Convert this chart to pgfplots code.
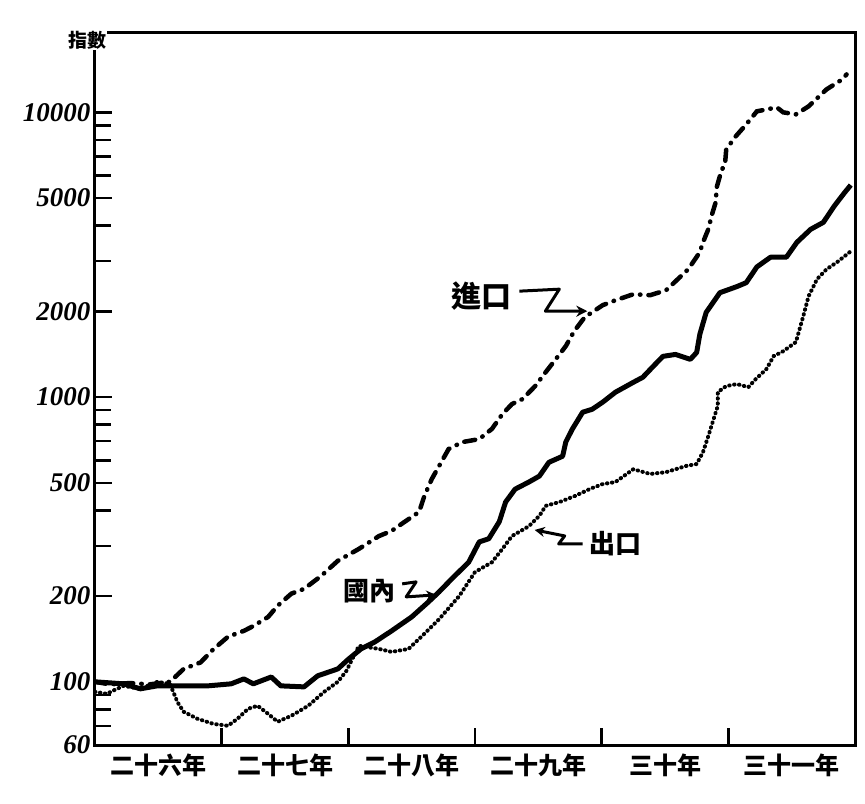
\documentclass[border=0pt]{standalone}
\usepackage{pgfplots}
\pgfplotsset{compat=1.18}
\usepackage{fontspec}
\setmainfont{Liberation Serif}
\newfontfamily\cjk{Noto Sans CJK TC}
\usetikzlibrary{arrows.meta}
\begin{document}
\begin{tikzpicture}
\begin{axis}[
  scale only axis,
  width=760pt, height=712pt,
  ymode=log,
  xmin=0, xmax=72,
  ymin=60, ymax=19000,
  axis line style={line width=3pt},
  ytick={60,100,200,500,1000,2000,5000,10000},
  yticklabels={60,100,200,500,1000,2000,5000,10000},
  minor ytick={70,80,90,300,400,600,700,800,900,3000,4000,6000,7000,8000,9000},
  ytick pos=left,
  tick align=inside,
  major tick length=17pt,
  minor tick length=16pt,
  every tick/.style={black, line width=2.5pt},
  yticklabel style={font=\fontsize{27}{29}\selectfont\bfseries\itshape, xshift=-1pt},
  xtick={12,24,36,48,60},
  xticklabels={},
  xtick pos=bottom,
  extra x ticks={6,18,30,42,54,66},
  extra x tick labels={二十六年,二十七年,二十八年,二十九年,三十年,三十一年},
  extra x tick style={major tick length=0pt, xticklabel style={font=\cjk\bfseries\fontsize{24}{26}\selectfont, yshift=-5pt}},
]
% 進口 (imports)
\addplot[black, line width=4.5pt, line cap=round, dash pattern=on 11pt off 8pt on 0.5pt off 8pt] coordinates {
(0,100) (1.4,98) (3.3,99) (5.2,98) (7.1,100) (8.4,111) (10,117) (11.2,130) (12.6,144) (14.1,151) (15,157) (16.4,169) (17.3,185) (18.6,204) (19.8,212) (21.4,235) (23,266) (25,293) (26.9,325) (28.1,339) (29.3,364) (30.7,395) (31.2,449) (31.9,515) (32.6,573) (33.5,657) (34.8,695) (36.4,712) (37.6,773) (38.6,872) (39.5,945) (40.5,984) (41.7,1093) (42.7,1224) (43.8,1381) (44.6,1510) (45.4,1705) (46.4,1909) (47.1,1986) (48.1,2103) (49.3,2188) (51,2297) (52.6,2280) (54.1,2373) (55,2551) (56.2,2812) (57.3,3227) (57.6,3498) (58.1,3884) (58.4,4315) (58.8,4831) (58.9,5456) (59.3,6155) (59.7,6676) (59.8,7418) (60.7,8237) (61.7,9077) (62.7,10081) (64.6,10411) (65.2,10000) (66.4,9840) (67.6,10497) (69.3,12040) (70.8,13056) (71.2,13590)
};
% 國內 (domestic)
\addplot[black, line width=5pt, line join=round] coordinates {
(0,100) (2.7,98.4) (4.3,94.5) (5.9,96.8) (7.4,96.8) (9,96.8) (10.7,96.8) (12.9,98.4) (14.1,102.4) (15,98.4) (16.7,104) (17.6,96.8) (19.8,96) (21.1,105) (23,111) (24,120) (25.2,130.5) (26.5,138) (28.1,151) (30,169) (31.6,191) (32.6,207) (33.8,230) (35.4,263) (36.4,310) (37.3,318) (38.3,365) (38.9,428) (39.8,475) (41.1,503) (42.1,528) (43,590) (44.3,620) (44.6,695) (45.2,770) (46.2,885) (47.1,906) (48.1,960) (49.3,1040) (51,1127) (51.9,1174) (52.9,1284) (53.8,1390) (55,1412) (56.4,1357) (57,1435) (57.3,1662) (57.9,1984) (59.2,2326) (60.8,2443) (61.7,2523) (62.7,2865) (64,3100) (65.5,3100) (66.5,3498) (67.8,3884) (69,4108) (70,4668) (71,5218) (71.6,5554)
};
% 出口 (exports)
\addplot[black, line width=4pt, line cap=round, dash pattern=on 0.5pt off 4.5pt] coordinates {
(0,92.2) (1.1,90.8) (2.7,96.8) (4.3,94.5) (5.9,100) (7.1,98.4) (7.8,85) (8.4,78.5) (9.7,74.2) (11.2,71.2) (12.6,70.1) (13.5,74.2) (14.5,80.4) (15.4,82.4) (16.4,77.2) (17.3,72.4) (18.6,76) (20.2,82.4) (21.7,92.2) (23,100) (23.8,109) (25,133.8) (26.9,130.5) (28.1,127.4) (29.7,130.5) (31,145) (32.6,166) (34.5,200) (36,243) (37.6,263) (38.6,293) (39.5,325) (41.1,352) (42.1,383) (42.7,415) (44,428) (45.5,450) (46.9,476) (48.1,495) (49.3,503) (51,558) (52.6,537) (54.1,545) (56,573) (57,582) (57.6,641) (58.1,729) (58.6,836) (59,930) (59,1041) (59.8,1093) (60.8,1111) (61.9,1084) (62.6,1157) (63.6,1254) (64.3,1393) (65.2,1449) (66.4,1560) (67.1,1924) (67.6,2260) (68.4,2594) (69.3,2812) (70.3,2977) (71.6,3252)
};
% annotations
\node[font=\cjk\bfseries\fontsize{30}{32}\selectfont] at (axis cs:36.6,2261) {進口};
\draw[line width=3pt, line join=round, -{Stealth[length=11pt,width=11pt]}] (axis cs:40.2,2355) -- ++(40pt,2pt) -- ++(-14pt,-22pt) -- ++(42pt,0pt);
\node[font=\cjk\bfseries\fontsize{26}{28}\selectfont] at (axis cs:26.0,208.6) {國內};
\draw[line width=3pt, line join=round, -{Stealth[length=10pt,width=10pt]}] (axis cs:29.1,220.8) -- ++(14pt,2pt) -- ++(-10pt,-15pt) -- ++(30pt,2pt);
\node[font=\cjk\bfseries\fontsize{26}{28}\selectfont] at (axis cs:49.3,305) {出口};
\draw[line width=3pt, line join=round, -{Stealth[length=10pt,width=10pt]}] (axis cs:46.2,305) -- ++(-24pt,0pt) -- ++(6pt,8pt) -- ++(-30pt,6pt);
\end{axis}
\node[font=\cjk\bfseries\fontsize{19}{21}\selectfont, fill=white, inner sep=1pt] at ([xshift=-8pt,yshift=-7pt]current axis.north west) {指數};
\path (current axis.south west) ++(-95pt,-58pt) rectangle ([shift={(10pt,33pt)}]current axis.north east);
\end{tikzpicture}
\end{document}
